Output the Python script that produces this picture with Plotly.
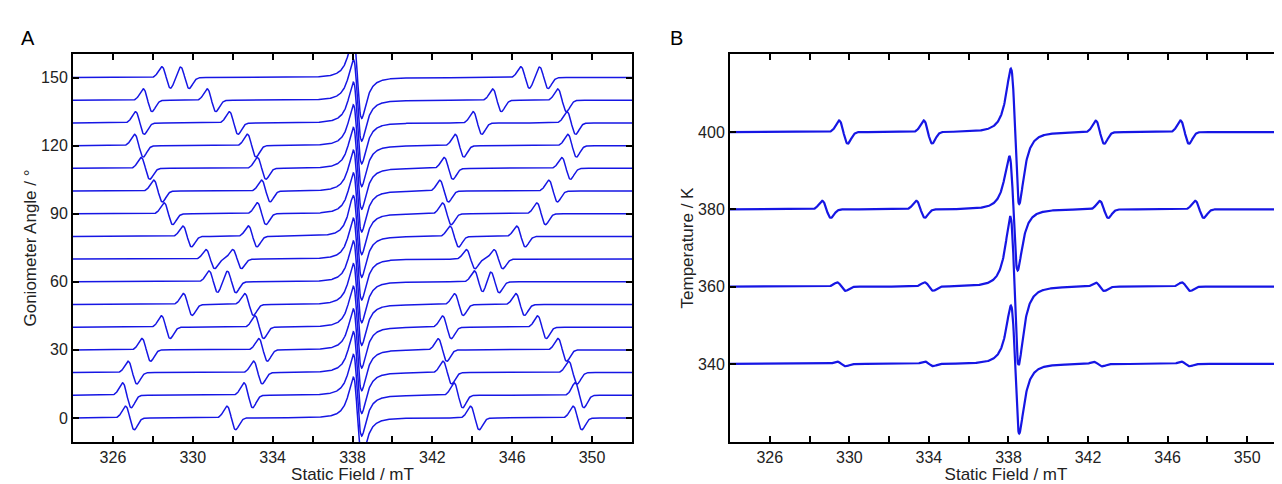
import numpy as np
import plotly.graph_objects as go

# ---------------- data ----------------
# Panel A: goniometer angle series (baseline offsets) and satellite line centres (mT)
angles = [0, 10, 20, 30, 40, 50, 60, 70, 80, 90, 100, 110, 120, 130, 140, 150]
sat_low1 = [326.85, 326.70, 326.98, 327.67, 328.65, 329.75, 331.03, 330.88,
            329.72, 328.78, 328.26, 327.63, 327.30, 327.35, 327.74, 328.67]
sat_low2 = [331.93, 332.78, 333.26, 333.52, 333.33, 332.82, 331.94, 332.22,
            333.00, 333.45, 333.66, 333.45, 332.95, 332.05, 330.94, 329.60]
sat_high1 = [344.13, 343.30, 342.75, 342.51, 342.73, 343.33, 344.32, 343.92,
             343.10, 342.73, 342.59, 342.81, 343.36, 344.26, 345.24, 346.65]
sat_high2 = [349.27, 349.37, 349.04, 348.51, 347.49, 346.40, 345.13, 345.31,
             346.44, 347.45, 348.05, 348.70, 349.00, 348.96, 348.50, 347.58]
sat_amp_A = [5.2, 5.5, 5.0, 5.0, 5.0, 4.8, 4.8, 4.2,
             4.6, 4.8, 4.8, 4.8, 5.0, 5.0, 5.0, 4.8]
centre_A = 338.25          # main line zero crossing (mT)
centre_amp_A = [18.0, 18.0]  # positive / negative lobe heights

# Panel B: temperature series
temps = [340, 360, 380, 400]
centre_B = [338.33, 338.30, 338.25, 338.33]
centre_pos_B = [15.1, 18.1, 13.8, 16.4]
centre_neg_B = [18.0, 20.3, 15.8, 18.6]
satB_low1 = [329.60, 329.60, 328.85, 329.70]
satB_low2 = [334.00, 334.00, 333.58, 333.95]
satB_high1 = [342.50, 342.60, 342.80, 342.60]
satB_high2 = [346.90, 346.93, 347.60, 346.86]
satB_amp = [0.6, 1.1, 2.2, 3.0]

# axis ticks
x_tickvals = [326, 328, 330, 332, 334, 336, 338, 340, 342, 344, 346, 348, 350]
x_ticktext = ["326", "", "330", "", "334", "", "338", "", "342", "", "346", "", "350"]
yA_ticks = [0, 30, 60, 90, 120, 150]
yB_ticks = [340, 360, 380, 400]

# ---------------- line shapes ----------------
field = np.arange(324.0, 352.001, 0.02)


def lorentz_deriv(b, b0, pp, a_pos, a_neg):
    gam = pp * np.sqrt(3) / 2
    u = (b - b0) / gam
    g = -u / (1 + u ** 2) ** 2 / 0.32476
    return np.where(u < 0, a_pos * g, a_neg * g)


def gauss_deriv(b, b0, pp, amp):
    s = pp / 2
    u = (b - b0) / s
    return -amp * u * np.exp((1 - u ** 2) / 2)


BLUE = "rgb(22,22,228)"
fig = go.Figure()

for i, ang in enumerate(angles):
    y = ang + lorentz_deriv(field, centre_A, 0.42, centre_amp_A[0], centre_amp_A[1])
    for c in (sat_low1[i], sat_low2[i], sat_high1[i], sat_high2[i]):
        y = y + gauss_deriv(field, c, 0.44, sat_amp_A[i])
    fig.add_trace(go.Scatter(x=field, y=y, mode="lines", xaxis="x", yaxis="y",
                             line=dict(color=BLUE, width=1.5), showlegend=False,
                             hoverinfo="skip"))

for i, t in enumerate(temps):
    y = t + lorentz_deriv(field, centre_B[i], 0.42, centre_pos_B[i], centre_neg_B[i])
    for c in (satB_low1[i], satB_low2[i], satB_high1[i], satB_high2[i]):
        y = y + gauss_deriv(field, c, 0.43, satB_amp[i])
    fig.add_trace(go.Scatter(x=field, y=y, mode="lines", xaxis="x2", yaxis="y2",
                             line=dict(color=BLUE, width=2.2), showlegend=False,
                             hoverinfo="skip"))

FONT = "Liberation Sans, Arial, sans-serif"
OFF = 8                      # page body margin of the html page
W, H = 1282 - OFF, 484 - OFF


def px(x):
    return (x - OFF) / W


def py(y):
    return 1 - (y - OFF) / H


common_x = dict(showline=True, linewidth=2, linecolor="black", mirror="ticks",
                ticks="inside", ticklen=6, tickwidth=2, tickcolor="black",
                tickvals=x_tickvals, ticktext=x_ticktext, showgrid=False,
                zeroline=False, automargin=False,
                tickfont=dict(family=FONT, size=16, color="#222"),
                title=dict(text="Static Field / mT", font=dict(family=FONT, size=17, color="#222"),
                           standoff=3))
common_y = dict(showline=True, linewidth=2, linecolor="black",
                ticks="inside", ticklen=6, tickwidth=2, tickcolor="black",
                showgrid=False, zeroline=False, automargin=False,
                tickfont=dict(family=FONT, size=16, color="#222"))

yd = [py(442), py(54)]
fig.update_layout(
    width=W, height=H, margin=dict(l=0, r=0, t=0, b=0),
    paper_bgcolor="white", plot_bgcolor="white",
    xaxis=dict(domain=[px(73), px(632)], range=[324, 352], anchor="y", **common_x),
    yaxis=dict(domain=yd, range=[-10.6, 160.4], anchor="x", tickvals=yA_ticks,
               mirror="ticks",
               title=dict(text="Goniometer Angle / °", font=dict(family=FONT, size=17, color="#222"),
                          standoff=0), **common_y),
    xaxis2=dict(domain=[px(730), 1.0], range=[324, 351.75], anchor="y2", **common_x),
    yaxis2=dict(domain=yd, range=[319.8, 420.2], anchor="x2", tickvals=yB_ticks,
                mirror=False,
                title=dict(text="Temperature / K", font=dict(family=FONT, size=17, color="#222"),
                           standoff=0), **common_y),
    annotations=[
        dict(text="A", x=px(19), y=py(25), xref="paper", yref="paper", showarrow=False,
             font=dict(family=FONT, size=20, color="black")),
        dict(text="B", x=px(676), y=py(25), xref="paper", yref="paper", showarrow=False,
             font=dict(family=FONT, size=20, color="black")),
    ],
)

fig.write_html("out.html")
